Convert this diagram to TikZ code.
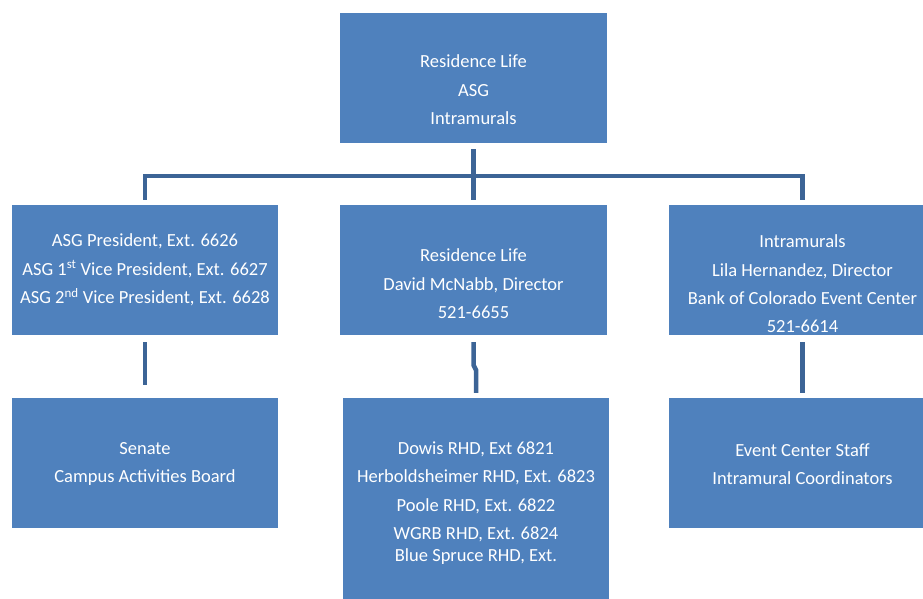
\documentclass[tikz,border=0pt]{standalone}
\usepackage{fontspec}
\setmainfont{Carlito}
\usepackage{xcolor}
\usepackage{tikz}
\usetikzlibrary{positioning}
\definecolor{boxblu}{RGB}{79,129,189}
\definecolor{lineablu}{RGB}{60,100,150}

\begin{document}
\begin{tikzpicture}[x=1pt, y=-1pt,
    box/.style={fill=boxblu, minimum width=267pt, minimum height=130pt, inner sep=0pt},
    testo/.style={text=white, align=center, font=\fontsize{18.5}{28.4}\selectfont},
    conn/.style={draw=lineablu, line width=4.5pt, line join=miter}]
    \useasboundingbox (0,0) rectangle (923,599);

    % Livello 1
    \node[box] (top) at (473.5,78) {};
    \node[testo] (toptxt) at (473.5,90) {Residence Life\\ASG\\Intramurals};

    % Livello 2
    \node[box, minimum width=266pt] (asg) at (145,270) {};
    \node[testo] (asgtxt) at (145,270) {ASG President, Ext. 6626\\ASG 1\textsuperscript{st} Vice President, Ext. 6627\\ASG 2\textsuperscript{nd} Vice President, Ext. 6628};
    \node[box] (rl) at (473.5,270) {};
    \node[testo] (rltxt) at (473.5,284) {Residence Life\\David McNabb, Director\\521-6655};
    \node[box] (im) at (802.5,270) {};
    \node[testo] (imtxt) at (802.5,284) {Intramurals\\Lila Hernandez, Director\\Bank of Colorado Event Center\\521-6614};

    % Livello 3
    \node[box, minimum width=266pt] (sen) at (145,463) {};
    \node[testo] (sentxt) at (145,464) {Senate\\Campus Activities Board};
    \node[box, minimum width=266pt, minimum height=210pt] (rhd) at (476,503) {};
    \node[testo] (rhdtxt) at (476,503) {Dowis RHD, Ext 6821\\Herboldsheimer RHD, Ext. 6823\\Poole RHD, Ext. 6822\\WGRB RHD, Ext. 6824\\[-7pt]Blue Spruce RHD, Ext.};
    \node[box] (staff) at (802.5,463) {};
    \node[testo] (stafftxt) at (802.5,464) {Event Center Staff\\Intramural Coordinators};

    % Collegamenti
    \coordinate (bar) at (0,176);
    \coordinate (jog) at (0,365);
    \coordinate (jogb) at (0,370);
    \draw[conn, shorten <=6pt, shorten >=5pt] (top.south) -- (rl.north);
    \draw[conn, shorten <=5pt, shorten >=5pt] (asg.north) -- (asg.north |- bar) -- (im.north |- bar) -- (im.north);
    \draw[conn, shorten <=7pt, shorten >=13pt] (asg.south) -- (sen.north);
    \draw[conn, shorten <=7pt, shorten >=5pt] (rl.south) -- (rl.south |- jog) -- (rhd.north |- jogb) -- (rhd.north);
    \draw[conn, shorten <=7pt, shorten >=5pt] (im.south) -- (staff.north);
\end{tikzpicture}
\end{document}
